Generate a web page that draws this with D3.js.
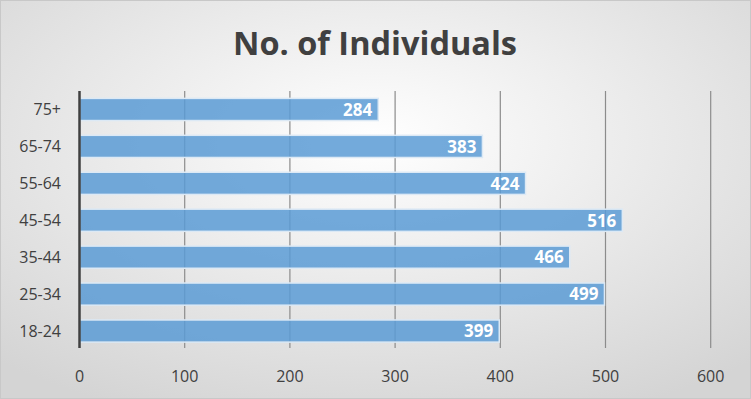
<!DOCTYPE html>
<html>
<head>
<meta charset="utf-8">
<script src="https://cdn.jsdelivr.net/npm/d3@7"></script>
<style>
  body { margin: 0; background: #fff; }
  svg { display: block; font-family: "Open Sans", "Noto Sans", sans-serif; }
</style>
</head>
<body>
<svg id="chart"></svg>
<script>
(function() {

	// DATA
	var categories = ['18-24', '25-34', '35-44', '45-54', '55-64', '65-74', '75+'];
	var values = [399, 499, 466, 516, 424, 383, 284];
	var ticks = [0, 100, 200, 300, 400, 500, 600];
	var title = 'No. of Individuals';

	var width = 751, height = 399;
	var margin = { top: 91, bottom: 50, left: 79.5, right: 40 };

	var svg = d3.select('#chart')
		.attr('width', width)
		.attr('height', height);

	var defs = svg.append('defs');
	var bg = defs.append('radialGradient')
		.attr('id', 'bg')
		.attr('cx', '50%').attr('cy', '35%').attr('r', '75%');
	bg.append('stop').attr('offset', '0%').attr('stop-color', '#ffffff');
	bg.append('stop').attr('offset', '100%').attr('stop-color', '#d4d4d4');

	svg.append('rect')
		.attr('x', 0.5).attr('y', 0.5)
		.attr('width', width - 1).attr('height', height - 1)
		.attr('fill', 'url(#bg)')
		.attr('stroke', '#c8c8c8');

	svg.append('text')
		.attr('x', 375)
		.attr('y', 55)
		.attr('text-anchor', 'middle')
		.attr('font-size', 32.5)
		.attr('font-weight', 'bold')
		.attr('fill', '#404040')
		.text(title);

	var x = d3.scaleLinear()
		.domain([0, 600])
		.range([margin.left, 710.7]);

	var y = d3.scaleBand()
		.domain(categories.slice().reverse())
		.range([margin.top, 349.5])
		.paddingInner(0.4)
		.paddingOuter(0.2);

	var g = svg.append('g');

	// gridlines
	g.selectAll('.grid')
		.data(ticks.slice(1))
		.enter().append('line')
		.attr('class', 'grid')
		.attr('x1', function(d) { return x(d); })
		.attr('x2', function(d) { return x(d); })
		.attr('y1', margin.top)
		.attr('y2', 348)
		.attr('stroke', '#8c8c8c')
		.attr('stroke-width', 1.2);

	// bars
	g.selectAll('.bar')
		.data(values)
		.enter().append('rect')
		.attr('class', 'bar')
		.attr('x', x(0))
		.attr('y', function(d, i) { return y(categories[i]); })
		.attr('width', function(d) { return x(d) - x(0); })
		.attr('height', y.bandwidth())
		.attr('fill', '#5b9bd5')
		.attr('fill-opacity', 0.85)
		.attr('stroke', '#dce9f5')
		.attr('stroke-width', 1.5);

	// value labels
	g.selectAll('.val')
		.data(values)
		.enter().append('text')
		.attr('class', 'val')
		.attr('x', function(d) { return x(d) - 6; })
		.attr('y', function(d, i) { return y(categories[i]) + y.bandwidth() / 2; })
		.attr('dy', '0.37em')
		.attr('text-anchor', 'end')
		.attr('font-size', 17)
		.attr('font-weight', 'bold')
		.attr('fill', '#ffffff')
		.text(function(d) { return d; });

	// y axis line
	g.append('line')
		.attr('x1', x(0)).attr('x2', x(0))
		.attr('y1', margin.top).attr('y2', 348)
		.attr('stroke', '#404040')
		.attr('stroke-width', 2.5);

	// category labels
	g.selectAll('.cat')
		.data(categories)
		.enter().append('text')
		.attr('class', 'cat')
		.attr('x', 61)
		.attr('y', function(d) { return y(d) + y.bandwidth() / 2; })
		.attr('dy', '0.37em')
		.attr('text-anchor', 'end')
		.attr('font-size', 16)
		.attr('fill', '#404040')
		.text(function(d) { return d; });

	// tick labels
	g.selectAll('.tick-label')
		.data(ticks)
		.enter().append('text')
		.attr('class', 'tick-label')
		.attr('x', function(d) { return x(d); })
		.attr('y', 382)
		.attr('text-anchor', 'middle')
		.attr('font-size', 16)
		.attr('fill', '#404040')
		.text(function(d) { return d; });

})()
</script>
</body>
</html>
